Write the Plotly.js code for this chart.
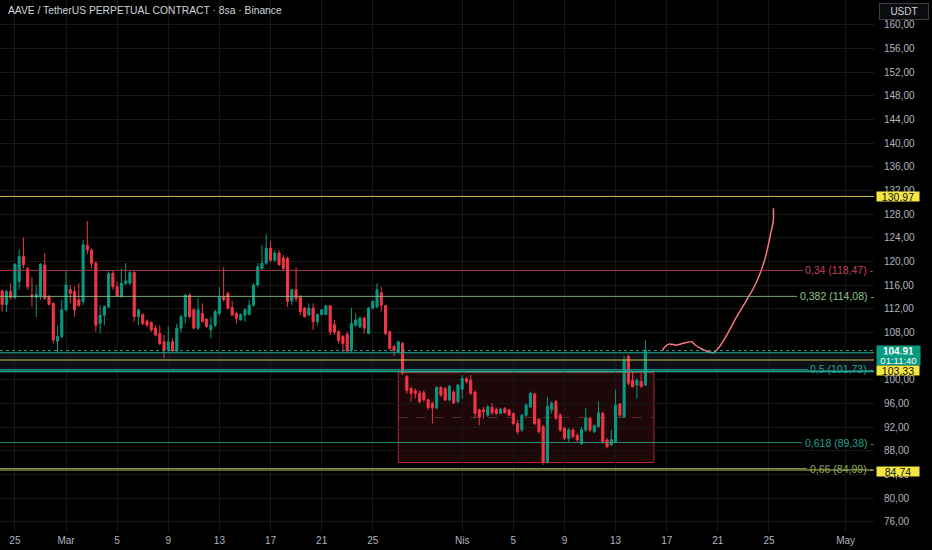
<!DOCTYPE html>
<html>
<head>
<meta charset="utf-8">
<script src="https://cdn.plot.ly/plotly-3.0.1.min.js"></script>
<style>
  html, body { margin:0; padding:0; background:#000; }
  #chart { width:932px; height:550px; }
</style>
</head>
<body>
<div id="chart"></div>
<script>
// ---------- DATA ----------
const candleStart = '2025-02-24T00:00:00Z';   // first 8h candle
const candleHours = 8;

const openP = [
115.0,112.7,114.9,113.9,116.6,120.8,118.8,114.3,113.9,114.0,
119.4,114.0,112.9,106.5,107.3,111.8,115.2,114.9,113.5,113.2,
122.7,121.9,119.7,109.5,110.9,112.3,118.0,115.7,114.0,116.3,
116.3,118.15,110.65,111.0,109.9,109.7,108.7,107.8,106.4,105.0,
106.4,104.85,108.7,110.65,114.3,111.8,108.7,111.2,110.2,108.4,
109.2,111.2,114.1,114.6,112.2,111.2,110.1,110.9,111.0,112.6,
116.0,118.8,119.7,122.2,120.2,121.4,120.6,120.5,113.3,115.2,
114.0,112.1,110.9,112.1,109.8,111.0,111.0,112.5,109.3,108.1,
107.3,107.7,105.0,109.2,108.9,110.4,107.8,112.1,112.3,114.7,
112.5,108.1,105.6,104.7,106.1,100.5,98.5,98.1,97.7,97.8,
96.6,96.0,95.2,98.7,98.5,96.6,97.9,96.3,98.4,100.2,
99.9,97.9,94.9,94.9,94.0,95.3,95.0,94.3,95.1,94.9,
94.3,92.6,91.5,94.0,95.4,97.6,93.3,92.06,86.1,94.9,
96.3,94.0,91.8,90.1,91.5,90.6,89.2,91.5,93.5,91.2,
92.06,94.3,89.8,89.0,89.5,95.9,93.7,103.9,99.9,99.1,
99.7,99.1
];
const highP = [
115.3,115.2,116.3,119.7,122.0,124.0,119.1,117.3,116.0,119.7,
121.4,114.3,113.1,109.2,113.5,118.5,116.0,115.7,116.3,123.6,
126.8,122.2,120.0,112.6,112.6,118.3,118.5,116.6,118.8,119.7,
118.5,118.3,112.0,111.2,110.2,109.8,109.2,109.2,107.55,109.0,
107.0,109.4,111.0,114.5,114.6,112.1,113.75,112.9,110.4,110.65,
111.8,115.7,119.0,114.9,113.3,111.5,111.2,112.1,113.5,116.3,
119.7,122.8,124.6,123.4,121.9,121.9,121.1,120.8,115.3,119.0,
114.3,112.3,112.9,112.9,111.2,111.9,112.6,112.6,110.1,108.4,
107.55,108.1,112.1,111.2,110.65,110.65,112.3,113.5,116.3,115.7,
112.6,108.3,105.9,106.6,106.4,100.8,98.8,98.5,98.2,98.2,
96.8,96.3,98.9,98.9,98.8,99.1,98.2,99.2,100.8,100.4,
100.8,98.2,95.1,95.4,95.7,96.0,95.3,95.2,95.4,95.0,
94.4,93.2,94.2,96.0,98.0,97.7,93.5,92.3,97.1,96.4,
96.6,94.3,92.06,91.8,91.8,90.9,92.06,95.2,93.7,92.4,
96.3,94.6,90.1,91.5,98.3,96.0,104.0,104.2,101.35,100.2,
101.1,106.7
];
const lowP = [
111.5,111.4,113.5,113.6,115.2,118.8,115.2,112.3,110.6,113.5,
113.5,112.6,106.1,104.7,107.0,111.5,112.9,110.65,112.3,112.6,
121.2,118.8,108.1,107.8,109.2,112.1,115.2,114.0,113.9,116.0,
116.0,109.8,109.2,109.2,108.9,108.1,107.3,105.8,103.6,104.7,
104.7,104.7,108.0,109.5,110.4,108.6,108.4,109.7,108.7,107.0,
108.9,110.9,113.2,111.8,110.8,109.5,110.0,109.8,110.9,112.3,
115.7,118.5,119.4,119.9,119.9,119.3,118.5,112.3,112.6,113.2,
110.9,110.5,110.8,108.4,109.2,110.9,110.9,107.55,107.55,106.1,
104.7,104.6,104.6,108.9,108.7,107.8,107.7,111.8,112.1,111.5,
107.5,105.0,104.0,104.6,100.8,97.6,96.3,96.8,96.0,96.3,
94.9,92.6,95.0,97.1,96.4,96.3,95.9,96.0,96.8,99.4,
97.4,93.5,92.3,93.5,93.7,94.0,94.0,94.2,94.3,93.9,
92.3,90.8,91.2,93.7,95.2,92.3,90.9,85.6,85.9,94.3,
93.2,91.2,89.8,89.5,90.1,89.5,88.95,91.2,91.2,91.0,
91.9,89.2,88.4,88.8,89.4,93.7,93.5,99.1,98.7,96.8,
98.7,98.9
];
const closeP = [
112.7,114.9,113.9,119.5,120.8,119.4,115.7,114.0,114.4,119.5,
113.75,112.7,106.7,107.3,111.8,116.0,114.6,111.8,112.6,122.8,
121.9,119.7,109.2,110.9,112.3,117.9,115.7,114.1,116.3,116.7,
118.15,110.65,111.8,109.5,109.2,108.4,107.55,106.1,105.0,106.4,
104.85,108.7,110.65,114.3,110.65,108.7,111.8,109.8,109.0,109.2,
111.5,114.0,113.5,112.1,110.9,110.4,111.0,111.8,112.6,116.0,
119.1,119.7,122.2,120.2,121.4,119.4,118.8,113.2,115.2,113.75,
111.5,110.65,112.1,109.8,111.0,111.8,112.5,108.1,108.0,106.6,
106.1,104.85,109.5,110.1,110.4,108.7,112.1,113.2,115.2,112.6,
107.8,105.3,105.0,106.4,101.1,98.2,97.7,97.7,96.3,96.6,
95.3,95.2,98.7,97.4,96.6,98.9,96.1,99.1,100.2,99.7,
97.7,94.3,93.7,94.6,95.4,94.4,94.3,95.0,94.4,94.0,
92.6,91.2,94.0,95.7,97.7,92.6,91.2,86.0,95.5,96.0,
93.5,91.5,90.1,91.5,90.4,89.8,91.6,93.5,91.5,92.2,
94.4,89.5,88.7,89.9,95.7,94.0,103.3,99.4,98.8,99.9,
98.8,104.91
];

// Fibonacci levels
const fibRatios = ['0,34', '0,382', '0,5', '0,618', '0,66'];
const fibPrices = [118.47, 114.08, 101.73, 89.38, 84.99];

// Horizontal levels
const yellowLevels = [130.97, 103.33, 84.74];
const tealLevels = [104.55, 101.4];
const lastPrice = 104.91;
const countdown = '01:11:40';

// Range box (dates, prices)
const boxDates = ['2025-03-27 00:00', '2025-04-16 00:00'];
const boxPrices = [86.0, 101.2];

// Projection path
const projDates = ['2025-04-16 15:07','2025-04-16 20:53','2025-04-17 04:48','2025-04-17 18:43',
  '2025-04-18 07:12','2025-04-18 23:02','2025-04-19 05:17','2025-04-19 17:46','2025-04-20 06:14',
  '2025-04-20 15:36','2025-04-21 00:58','2025-04-21 16:48','2025-04-22 11:31','2025-04-23 06:14',
  '2025-04-23 22:05','2025-04-24 07:26','2025-04-24 16:48','2025-04-24 22:48','2025-04-25 05:17',
  '2025-04-25 08:10','2025-04-25 08:24'];
const projPrices = [104.85,105.57,106.03,105.86,106.15,106.42,105.86,105.18,104.73,
  104.56,105.30,107.55,110.64,113.46,116.0,117.98,120.5,122.76,125.58,126.7,128.96];

// Axis ticks
const xTickVals = ['2025-02-25','2025-03-01','2025-03-05','2025-03-09','2025-03-13','2025-03-17',
  '2025-03-21','2025-03-25','2025-04-01','2025-04-05','2025-04-09','2025-04-13','2025-04-17',
  '2025-04-21','2025-04-25','2025-05-01'];
const xTickText = ['25','Mar','5','9','13','17','21','25','Nis','5','9','13','17','21','25','May'];
const yTickVals = [76,80,84,88,92,96,100,104,108,112,116,120,124,128,132,136,140,144,148,152,156,160];
const yTickHidden = [104];   // covered by the live-price label in the reference

const titleText = 'AAVE / TetherUS PERPETUAL CONTRACT · 8sa · Binance';
const currency = 'USDT';

// ---------- STYLE ----------
const GREEN = '#089981', RED = '#f23645';
const fibColors = ['#c8405a', '#8cc88a', '#22a08c', '#22a08c', '#8fae5a'];
const fibLineEnd = [0.9188, 0.912, 0.9245, 0.9176, 0.923];
const FONT = 'Liberation Sans, Arial, sans-serif';

// ---------- BUILD ----------
const t0 = Date.parse(candleStart);
const times = openP.map((_, i) => new Date(t0 + i * candleHours * 3600e3).toISOString().slice(0,16).replace('T',' '));

const fmt = v => v.toFixed(2).replace('.', ',');
const yTickText = yTickVals.map(v => yTickHidden.includes(v) ? '' : fmt(v));

const traces = [
  {
    type: 'candlestick', x: times, open: openP, high: highP, low: lowP, close: closeP,
    increasing: { line: { color: GREEN, width: 1 }, fillcolor: GREEN },
    decreasing: { line: { color: RED, width: 1 }, fillcolor: RED },
    whiskerwidth: 0, hoverinfo: 'skip'
  },
  {
    type: 'scatter', mode: 'lines', x: projDates, y: projPrices,
    line: { color: '#f7767e', width: 1.5, shape: 'spline', smoothing: 0.8 },
    hoverinfo: 'skip'
  }
];

const shapes = [];
// band between teal levels
shapes.push({ type:'rect', xref:'paper', x0:0, x1:1, yref:'y', y0:tealLevels[1], y1:tealLevels[0],
  fillcolor:'rgba(70,80,120,0.2)', line:{width:0}, layer:'below' });
// range box
shapes.push({ type:'rect', xref:'x', x0:boxDates[0], x1:boxDates[1], yref:'y', y0:boxPrices[0], y1:boxPrices[1],
  fillcolor:'rgba(242,54,69,0.12)', line:{color:'#b4283a', width:1}, layer:'below' });
shapes.push({ type:'line', xref:'x', x0:boxDates[0], x1:boxDates[1], yref:'y',
  y0:(boxPrices[0]+boxPrices[1])/2, y1:(boxPrices[0]+boxPrices[1])/2,
  line:{color:'rgba(170,90,95,0.45)', width:1, dash:'dash'}, layer:'below' });
// fib lines
fibPrices.forEach((p, i) => shapes.push({ type:'line', xref:'paper', x0:0, x1:fibLineEnd[i], yref:'y', y0:p, y1:p,
  line:{color:fibColors[i], width:1}, opacity:0.85 }));
// yellow lines
yellowLevels.forEach(p => shapes.push({ type:'line', xref:'paper', x0:0, x1:1, yref:'y', y0:p, y1:p,
  line:{color:'#c9c452', width:1} }));
// teal lines
tealLevels.forEach((p, i) => shapes.push({ type:'line', xref:'paper', x0:0, x1:1, yref:'y', y0:p, y1:p,
  line:{color:'#1fae94', width: i === 0 ? 1.2 : 1.8} }));
// last price dotted line
shapes.push({ type:'line', xref:'paper', x0:0, x1:1, yref:'y', y0:lastPrice, y1:lastPrice,
  line:{color:'#1fae94', width:1, dash:'dot'} });

const annotations = [];
annotations.push({ xref:'paper', yref:'paper', x:0, y:1, xanchor:'left', yanchor:'top', xshift:6, yshift:-3,
  text: titleText, showarrow:false, font:{family:FONT, size:10.3, color:'#d1d4dc'} });
annotations.push({ xref:'paper', yref:'paper', x:1, y:1, xanchor:'left', yanchor:'top', xshift:5, yshift:-3,
  text: currency, showarrow:false, width:44, height:11, borderpad:2, bgcolor:'#0c0c0e',
  bordercolor:'#3b3f4a', borderwidth:1, font:{family:FONT, size:10, color:'#d1d4dc'} });
fibPrices.forEach((p, i) => annotations.push({ xref:'paper', yref:'y', x:1, y:p, xanchor:'right', yanchor:'middle',
  xshift:2, text: fibRatios[i] + ' (' + fmt(p) + ') -', showarrow:false,
  font:{family:FONT, size:10.5, color:fibColors[i]} }));
// live price box (two stacked single-line labels sharing one background)
annotations.push({ xref:'paper', yref:'y', x:1, y:lastPrice, xanchor:'left', yanchor:'middle',
  xshift:2, yshift:0, text: '<b>' + fmt(lastPrice) + '</b>', showarrow:false,
  bgcolor:GREEN, width:42, height:9, borderpad:0.5,
  font:{family:FONT, size:10, color:'#ffffff'} });
annotations.push({ xref:'paper', yref:'y', x:1, y:lastPrice, xanchor:'left', yanchor:'middle',
  xshift:2, yshift:-9.5, text: countdown, showarrow:false,
  bgcolor:GREEN, width:42, height:9, borderpad:0.5,
  font:{family:FONT, size:9.5, color:'#ffffff'} });
// yellow price boxes
const yellowShift = [0, -10.5, -1.5];
yellowLevels.forEach((p, i) => annotations.push({ xref:'paper', yref:'y', x:1, y:p, xanchor:'left', yanchor:'middle',
  xshift:2, yshift:yellowShift[i], text: fmt(p), showarrow:false, bgcolor:'#f5e642', width:42, height:9, borderpad:0,
  font:{family:FONT, size:10.5, color:'#111'} }));

const layout = {
  width: 932, height: 550,
  paper_bgcolor: '#000', plot_bgcolor: '#000',
  margin: { l:0, r:58, t:0, b:17 },
  separators: ',.',
  showlegend: false,
  dragmode: false,
  font: { family: FONT, size: 10, color: '#b2b5be' },
  xaxis: {
    type: 'date', range: ['2025-02-23 20:00', '2025-05-03 05:17'],
    tickmode: 'array', tickvals: xTickVals, ticktext: xTickText,
    showgrid: true, gridcolor: '#171717', gridwidth: 1, zeroline: false, showline: false, ticks: '',
    rangeslider: { visible: false }, tickfont: { family: FONT, size: 10, color: '#b2b5be' }, fixedrange: true
  },
  yaxis: {
    side: 'right', range: [74.09, 164.17], tickmode: 'array', tickvals: yTickVals, ticktext: yTickText,
    showgrid: true, gridcolor: '#171717', zeroline: false, showline: false,
    ticks: '', ticklabelstandoff: 9, tickfont: { family: FONT, size: 10, color: '#b2b5be' }, fixedrange: true
  },
  shapes: shapes,
  annotations: annotations
};

Plotly.newPlot('chart', traces, layout, { displayModeBar: false, staticPlot: true });
</script>
</body>
</html>
